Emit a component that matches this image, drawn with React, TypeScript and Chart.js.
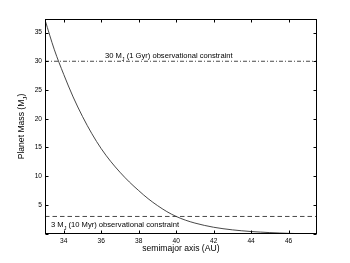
import React, { useEffect, useRef } from 'react';
import { Chart, registerables } from 'chart.js';
Chart.register(...registerables);

// semimajor axis (AU) and planet mass (M_J)
const semimajorAxis = [33, 33.5, 34, 34.5, 35, 35.5, 36, 36.5, 37, 37.5, 38, 38.5, 39, 39.5, 40, 40.5, 41, 41.5, 42, 42.5, 43, 43.5, 44, 44.5, 45, 45.5, 46, 46.5];
const planetMass = [37.2, 32.0, 27.7, 23.8, 20.4, 17.4, 14.8, 12.6, 10.7, 9.0, 7.5, 6.1, 4.9, 3.85, 3.0, 2.35, 1.85, 1.45, 1.12, 0.87, 0.67, 0.51, 0.38, 0.28, 0.19, 0.12, 0.06, 0.02];

const constraintMasses = [30, 3];
const constraintLabels = [
  ['30 M', 'J', ' (1 Gyr) observational constraint'],
  ['3 M', 'J', ' (10 Myr) observational constraint'],
];
// label anchor (x in AU) for each constraint text
const constraintLabelX = [36.2, 33.32];

const xTicks = [34, 36, 38, 40, 42, 44, 46];
const yTicks = [0, 5, 10, 15, 20, 25, 30, 35];
const xRange = [33, 47.5];
const yRange = [0, 37.3];

const FONT = '"Liberation Sans", Arial, Helvetica, sans-serif';

function drawSubText(ctx: CanvasRenderingContext2D, x: number, y: number, parts: string[], size: number, align: 'left' | 'center') {
  const subSize = size * 0.72;
  const widths = parts.map((p, i) => {
    ctx.font = `${i === 1 ? subSize : size}px ${FONT}`;
    return ctx.measureText(p).width;
  });
  const total = widths.reduce((a, b) => a + b, 0);
  let cx = align === 'center' ? x - total / 2 : x;
  ctx.textAlign = 'left';
  ctx.textBaseline = 'alphabetic';
  parts.forEach((p, i) => {
    ctx.font = `${i === 1 ? subSize : size}px ${FONT}`;
    ctx.fillText(p, cx, i === 1 ? y + size * 0.35 : y);
    cx += widths[i];
  });
}

const matlabPlugin = {
  id: 'matlabBox',
  afterDraw(chart: any) {
    const { ctx, chartArea: a, scales } = chart;
    const xs = scales.x;
    const ys = scales.y;
    ctx.save();
    ctx.strokeStyle = '#000';
    ctx.lineWidth = 1;
    const L = Math.round(a.left) + 0.5;
    const R = Math.round(a.right) - 0.5;
    const T = Math.round(a.top) + 0.5;
    const B = Math.round(a.bottom) - 0.5;
    ctx.strokeRect(L, T, R - L, B - T);
    const tl = 3;
    ctx.beginPath();
    xs.ticks.forEach((t: any) => {
      const px = Math.round(xs.getPixelForValue(t.value)) + 0.5;
      ctx.moveTo(px, B); ctx.lineTo(px, B - tl);
      ctx.moveTo(px, T); ctx.lineTo(px, T + tl);
    });
    ys.ticks.forEach((t: any) => {
      const py = Math.round(ys.getPixelForValue(t.value)) + 0.5;
      ctx.moveTo(L, py); ctx.lineTo(L + tl, py);
      ctx.moveTo(R, py); ctx.lineTo(R - tl, py);
    });
    ctx.stroke();

    ctx.fillStyle = '#000';
    // constraint labels
    drawSubText(ctx, xs.getPixelForValue(constraintLabelX[0]), ys.getPixelForValue(constraintMasses[0]) - 3, constraintLabels[0], 7.6, 'left');
    drawSubText(ctx, xs.getPixelForValue(constraintLabelX[1]), ys.getPixelForValue(constraintMasses[1]) + 10.5, constraintLabels[1], 7.6, 'left');

    // x title
    ctx.font = `8.6px ${FONT}`;
    ctx.textAlign = 'center';
    ctx.textBaseline = 'alphabetic';
    ctx.fillText('semimajor axis (AU)', (a.left + a.right) / 2, a.bottom + 17.5);

    // y title
    ctx.save();
    ctx.translate(24, (a.top + a.bottom) / 2);
    ctx.rotate(-Math.PI / 2);
    drawSubText(ctx, 0, 0, ['Planet Mass (M', 'J', ')'], 8.6, 'center');
    ctx.restore();
    ctx.restore();
  },
};

export default function App() {
  const ref = useRef<HTMLCanvasElement>(null);
  useEffect(() => {
    document.body.style.margin = '0';
    const canvas = ref.current!;
    const curve = semimajorAxis.map((x, i) => ({ x, y: planetMass[i] }));
    const lineColor = '#1a1a1a';
    const chart = new Chart(canvas, {
      type: 'scatter',
      data: {
        datasets: [
          {
            data: curve,
            showLine: true,
            borderColor: '#333',
            borderWidth: 0.9,
            pointRadius: 0,
            cubicInterpolationMode: 'monotone',
          },
          {
            data: [{ x: xRange[0], y: constraintMasses[0] }, { x: xRange[1], y: constraintMasses[0] }],
            showLine: true,
            borderColor: lineColor,
            borderWidth: 0.8,
            borderDash: [4, 2, 1, 2],
            pointRadius: 0,
          },
          {
            data: [{ x: xRange[0], y: constraintMasses[1] }, { x: xRange[1], y: constraintMasses[1] }],
            showLine: true,
            borderColor: lineColor,
            borderWidth: 0.8,
            borderDash: [4.5, 3],
            pointRadius: 0,
          },
        ],
      } as any,
      options: {
        animation: false,
        responsive: false,
        events: [],
        layout: { padding: { left: 0, right: 33.3, top: 19.3, bottom: 0 } },
        plugins: { legend: { display: false }, tooltip: { enabled: false } },
        scales: {
          x: {
            type: 'linear',
            min: xRange[0],
            max: xRange[1],
            afterBuildTicks: (s: any) => { s.ticks = xTicks.map((v) => ({ value: v })); },
            afterFit: (s: any) => { s.height = 29.3; },
            grid: { display: false, drawTicks: false },
            border: { display: false },
            ticks: { padding: 4, color: '#000', font: { family: FONT, size: 6.6 }, maxRotation: 0, autoSkip: false },
          },
          y: {
            type: 'linear',
            min: yRange[0],
            max: yRange[1],
            afterBuildTicks: (s: any) => { s.ticks = yTicks.map((v) => ({ value: v })); },
            afterFit: (s: any) => { s.width = 45; },
            grid: { display: false, drawTicks: false },
            border: { display: false },
            ticks: {
              padding: 3,
              color: '#000',
              font: { family: FONT, size: 6.6 },
              autoSkip: false,
              callback: (v: any) => (v === 0 ? '' : String(v)),
            },
          },
        },
      } as any,
      plugins: [matlabPlugin],
    });
    return () => chart.destroy();
  }, []);
  return (
    <div style={{ position: 'absolute', left: 0, top: 0, width: 350, height: 263, background: '#fff' }}>
      <canvas ref={ref} width={350} height={263} style={{ width: 350, height: 263 }} />
    </div>
  );
}
